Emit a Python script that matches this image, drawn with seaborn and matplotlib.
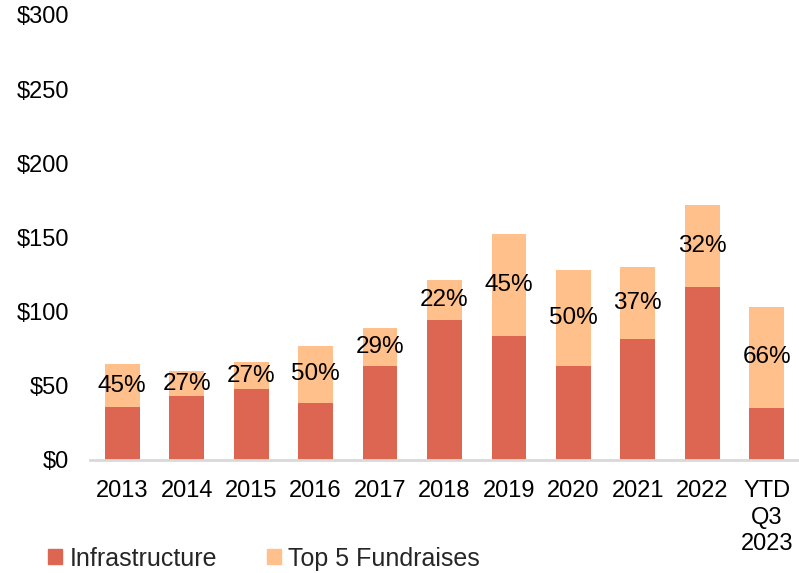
import numpy as np
import pandas as pd
import matplotlib
matplotlib.use("Agg")
import matplotlib.pyplot as plt
import seaborn as sns
from matplotlib.patches import Patch

# --- data ---
years = ["2013", "2014", "2015", "2016", "2017", "2018", "2019", "2020", "2021", "2022", "YTD\nQ3\n2023"]
infrastructure = [35.4, 42.8, 47.5, 38.1, 63.2, 94.0, 83.2, 63.2, 81.2, 116.4, 34.9]
total = [64.4, 59.6, 65.7, 76.7, 88.6, 121.4, 152.0, 127.7, 129.9, 172.0, 103.0]
pct_labels = ["45%", "27%", "27%", "50%", "29%", "22%", "45%", "50%", "37%", "32%", "66%"]
y_ticks = [0, 50, 100, 150, 200, 250, 300]

red = "#DD6653"
orange = "#FFC08B"

sns.set_theme(style="white")
plt.rcParams["font.family"] = ["Liberation Sans", "DejaVu Sans"]

df = pd.DataFrame({"year": years, "infra": infrastructure, "total": total})

fig = plt.figure(figsize=(7.99, 5.73), dpi=100)
ax = fig.add_axes([0.1126, 0.198, 0.8874, 0.776])

sns.barplot(data=df, x="year", y="total", color=orange, width=0.54, saturation=1, linewidth=0, ax=ax)
sns.barplot(data=df, x="year", y="infra", color=red, width=0.54, saturation=1, linewidth=0, ax=ax)

# percentage labels centred in the orange segment
for i, lab in enumerate(pct_labels):
    mid = (infrastructure[i] + total[i]) / 2
    ax.text(i, mid, lab, ha="center", va="center", fontsize=17.5, color="black")

ax.set_ylim(0, 300)
ax.set_xlim(-0.5, len(years) - 0.5)
ax.set_yticks(y_ticks)
ax.set_yticklabels([f"${v}" for v in y_ticks])
ax.set_xlabel("")
ax.set_ylabel("")
ax.tick_params(axis="both", length=0, labelsize=17, colors="black")
ax.tick_params(axis="y", pad=15)
ax.tick_params(axis="x", pad=15)
for t in ax.get_xticklabels():
    t.set_linespacing(1.25)

for s in ["top", "right", "left"]:
    ax.spines[s].set_visible(False)
ax.spines["bottom"].set_color("#D9D9D9")
ax.spines["bottom"].set_linewidth(2)

handles = [Patch(color=red, label="Infrastructure"), Patch(color=orange, label="Top 5 Fundraises")]
fig.legend(handles=handles, loc="lower left", bbox_to_anchor=(0.032, -0.035), ncol=2,
           frameon=False, fontsize=18, handlelength=0.55, handleheight=0.55,
           handletextpad=0.3, columnspacing=2.0)

fig.savefig("out.png", dpi=100)
